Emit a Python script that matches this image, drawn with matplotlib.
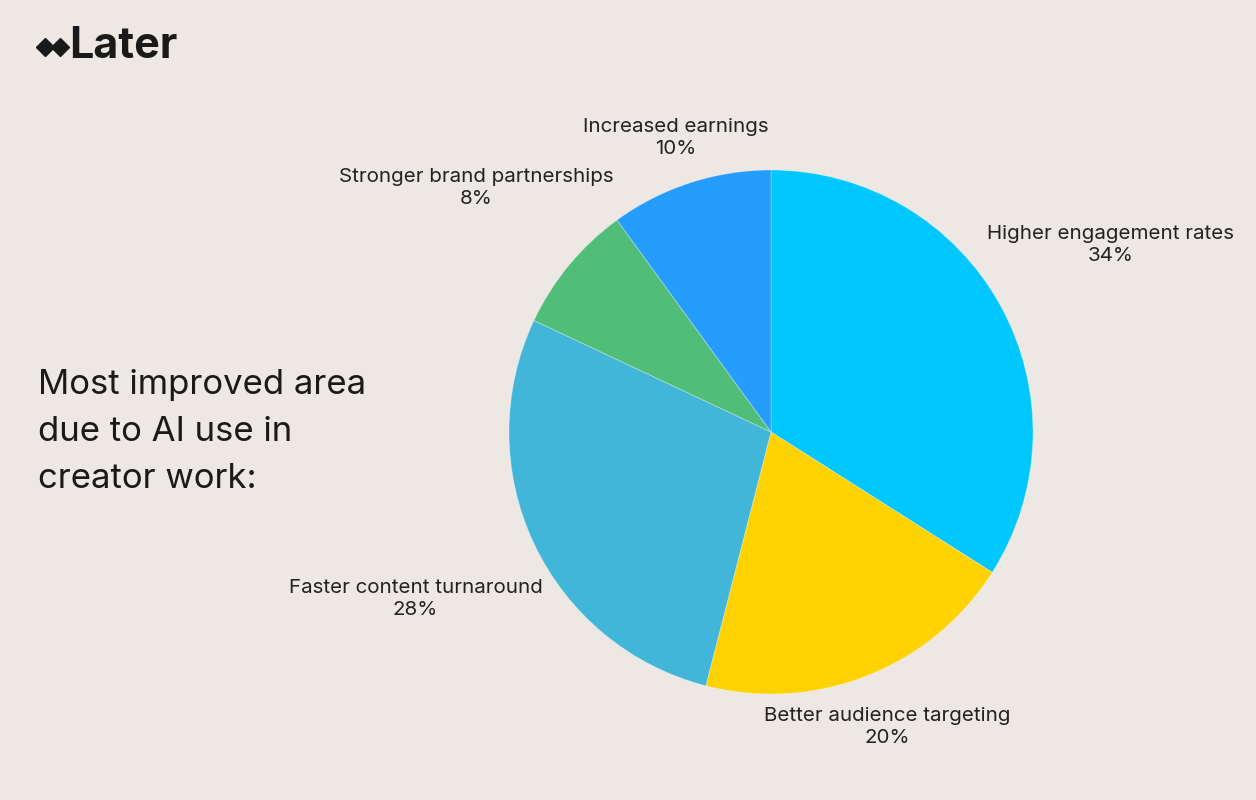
import matplotlib.pyplot as plt
import numpy as np

labels = ["Higher engagement rates", "Better audience targeting", "Faster content turnaround",
          "Stronger brand partnerships", "Increased earnings"]
values = [34, 20, 28, 8, 10]
colors = ["#00C8FF", "#FFD200", "#42B6D8", "#50BE78", "#249DFF"]
label_dist = [1.48, 1.21, 1.50, 1.46, 1.18]

bg = "#EDE8E3"
plt.rcParams["font.family"] = ["Inter", "DejaVu Sans"]

W, H = 1256, 800
fig = plt.figure(figsize=(W / 100, H / 100), dpi=100, facecolor=bg)
cx, cy, r = 771, 800 - 432, 262
ax = fig.add_axes([(cx - r) / W, (cy - r) / H, 2 * r / W, 2 * r / H])
ax.set_facecolor(bg)
wedges, _ = ax.pie(values, colors=colors, startangle=90, counterclock=False, radius=1,
                   wedgeprops=dict(linewidth=0.6, edgecolor="#ffffff55"))
ax.set_xlim(-1, 1)
ax.set_ylim(-1, 1)
for w, lab, v, d in zip(wedges, labels, values, label_dist):
    ang = np.deg2rad((w.theta1 + w.theta2) / 2)
    ax.text(d * np.cos(ang), d * np.sin(ang), f"{lab}\n{v}%", ha="center", va="center",
            fontsize=14.8, color="#222222", linespacing=1.3, clip_on=False)

fig.text(38 / W, 1 - 432 / H, "Most improved area\ndue to AI use in\ncreator work:",
         fontsize=25, color="#1a1a1a", ha="left", va="center", linespacing=1.6)

# logo
fig.text(69 / W, 1 - 47 / H, "Later", fontsize=31, fontweight="bold", color="#1a1a1a",
         ha="left", va="center")
fig.lines.append(plt.Line2D([45 / W, 60 / W], [1 - 47 / H] * 2, transform=fig.transFigure,
                            marker="D", markersize=9, linestyle="none", color="#1a1a1a"))

fig.savefig("out.png", dpi=100, facecolor=bg)
